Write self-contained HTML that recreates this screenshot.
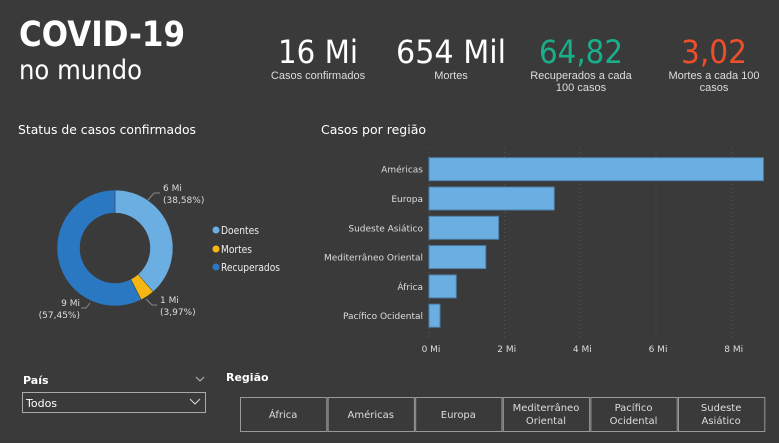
<!DOCTYPE html>
<html><head><meta charset="utf-8">
<style>
html,body{margin:0;padding:0;background:#3a3a3a;}
svg{display:block;font-family:"DejaVu Sans","Liberation Sans",sans-serif;}
.t{fill:#fff}
.s{fill:#ddd;font-family:"Liberation Sans",sans-serif}
</style></head>
<body>
<svg id="root" width="779" height="443" viewBox="0 0 779 443">
<rect width="779" height="443" fill="#3a3a3a"/>
<g>
<text x="19" y="46" class="t" font-size="35" font-weight="bold" textLength="166" lengthAdjust="spacingAndGlyphs">COVID-19</text>
<text x="19" y="79" class="t" font-size="27" textLength="123" lengthAdjust="spacingAndGlyphs">no mundo</text>
</g>
<g>
<text x="318" y="63" text-anchor="middle" class="t" font-size="32" textLength="80" lengthAdjust="spacingAndGlyphs">16 Mi</text>
<text x="318" y="79" text-anchor="middle" class="s" font-size="11">Casos confirmados</text>
</g>
<g>
<text x="451" y="63" text-anchor="middle" class="t" font-size="32" textLength="110" lengthAdjust="spacingAndGlyphs">654 Mil</text>
<text x="451" y="79" text-anchor="middle" class="s" font-size="11">Mortes</text>
</g>
<g>
<text x="581" y="63" text-anchor="middle" font-size="32" fill="#1aaf8b" textLength="84" lengthAdjust="spacingAndGlyphs">64,82</text>
<text x="581" y="79" text-anchor="middle" class="s" font-size="11">Recuperados a cada</text>
<text x="581" y="91" text-anchor="middle" class="s" font-size="11">100 casos</text>
</g>
<g>
<text x="714" y="63" text-anchor="middle" font-size="32" fill="#ee4f2b" textLength="66" lengthAdjust="spacingAndGlyphs">3,02</text>
<text x="714" y="79" text-anchor="middle" class="s" font-size="11">Mortes a cada 100</text>
<text x="714" y="91" text-anchor="middle" class="s" font-size="11">casos</text>
</g>
<text x="18" y="134" class="t" font-size="12.5" textLength="178" lengthAdjust="spacingAndGlyphs">Status de casos confirmados</text>
<text x="321" y="134" class="t" font-size="12.5" textLength="105" lengthAdjust="spacingAndGlyphs">Casos por região</text>
<g id="donut"></g>
<g>
<g><circle cx="216" cy="230" r="3.5" fill="#6aaee2"/><text x="221" y="234" fill="#eee" font-size="11" textLength="38" lengthAdjust="spacingAndGlyphs">Doentes</text></g>
<g><circle cx="216" cy="249" r="3.5" fill="#f6b612"/><text x="221" y="253" fill="#eee" font-size="11" textLength="31" lengthAdjust="spacingAndGlyphs">Mortes</text></g>
<g><circle cx="216" cy="267" r="3.5" fill="#2b78c2"/><text x="221" y="271" fill="#eee" font-size="11" textLength="59" lengthAdjust="spacingAndGlyphs">Recuperados</text></g>
</g>
<g id="bars"></g>
<g>
<text x="23" y="384" class="t" font-size="11" font-weight="bold">País</text>
<path d="M196 377 l4 4 l4 -4" stroke="#bbb" fill="none"/>
<rect x="22.5" y="392.5" width="183" height="20" fill="none" stroke="#aaa"/>
<text x="26" y="407" class="t" font-size="11">Todos</text>
<path d="M190 399 l5 5 l5 -5" stroke="#ddd" fill="none"/>
</g>
<text x="226" y="381" class="t" font-size="11" font-weight="bold">Região</text>
<g id="slicer"></g>
</svg>
<script>
const NS="http://www.w3.org/2000/svg";
function mk(tag,attrs,parent){const e=document.createElementNS(NS,tag);for(const k in attrs)e.setAttribute(k,attrs[k]);parent.appendChild(e);return e;}

// donut data
const slices=["Doentes","Mortes","Recuperados"];
const sliceValues=[38.58,3.97,57.45];
const sliceLabels=["6 Mi","1 Mi","9 Mi"];
const slicePct=["(38,58%)","(3,97%)","(57,45%)"];
const sliceColors=["#6aaee2","#f6b612","#2b78c2"];

// bar data
const regions=["Américas","Europa","Sudeste Asiático","Mediterrâneo Oriental","África","Pacífico Ocidental"];
const regionValues=[8.84,3.31,1.84,1.50,0.72,0.29];
const xTicks=[0,2,4,6,8];
const xTickLabels=["0 Mi","2 Mi","4 Mi","6 Mi","8 Mi"];

const slicerItems=[["África"],["Américas"],["Europa"],["Mediterrâneo","Oriental"],["Pacífico","Ocidental"],["Sudeste","Asiático"]];

// donut
const dg=document.getElementById("donut");
const cx=115,cy=248,R=58,r=35;
const total=sliceValues.reduce((a,b)=>a+b,0);
let a0=0;
const labelPos=[[163,191,"start"],[160,303,"start"],[80,306,"end"]];
const leaders=["148,200 154,193 160,193","146,299 152,305 157,305","90,303 86,308 81,308"];
sliceValues.forEach((v,i)=>{
  const a1=a0+v/total*2*Math.PI;
  const p=(a,rad)=>[cx+rad*Math.sin(a),cy-rad*Math.cos(a)];
  const [x0,y0]=p(a0,R),[x1,y1]=p(a1,R),[x2,y2]=p(a1,r),[x3,y3]=p(a0,r);
  const lg=(a1-a0)>Math.PI?1:0;
  const path=mk("path",{d:`M${x0} ${y0} A${R} ${R} 0 ${lg} 1 ${x1} ${y1} L${x2} ${y2} A${r} ${r} 0 ${lg} 0 ${x3} ${y3} Z`,fill:sliceColors[i],stroke:"#3a3a3a","stroke-width":0.5},dg);
  
  
  const [lx,ly,anc]=labelPos[i];
  const ld=mk("polyline",{points:leaders[i],fill:"none",stroke:"#888","stroke-width":1},dg);
  
  
  const t1=mk("text",{x:lx,y:ly,"text-anchor":anc,fill:"#ddd","font-size":9},dg);t1.textContent=sliceLabels[i];
  
  
  const t2=mk("text",{x:lx,y:ly+12,"text-anchor":anc,fill:"#ddd","font-size":9},dg);t2.textContent=slicePct[i];
  
  
  a0=a1;
});

// bars
const bg=document.getElementById("bars");
const x0px=429,pxPer=(731.7-429)/8;
const xs=v=>x0px+v*pxPer;
const rowTop=157.7,rowStep=29.3,barH=23;
xTicks.forEach((t,i)=>{
  const l=mk("line",{x1:xs(t),x2:xs(t),y1:148,y2:340,stroke:"#555","stroke-dasharray":"1,3"},bg);
  
  
  const tx=mk("text",{x:xs(t)+2,y:352,"text-anchor":"middle",fill:"#ddd","font-size":9},bg);
  tx.textContent=xTickLabels[i];
  
  
});
regions.forEach((reg,i)=>{
  const y=rowTop+i*rowStep;
  const b=mk("rect",{x:xs(0),y:y,width:xs(regionValues[i])-xs(0),height:barH,fill:"#6aaee2",stroke:"#4f7ea6","stroke-width":1},bg);
  
  
  const t=mk("text",{x:423,y:y+barH/2+3.5,"text-anchor":"end",fill:"#ddd","font-size":9},bg);
  t.textContent=reg;
  
  
});

// region slicer
const sg=document.getElementById("slicer");
slicerItems.forEach((lines,i)=>{
  const x=240+i*87.6,w=86.3;
  const g=mk("g",{},sg);
  
  
  mk("rect",{x:x+0.5,y:397.5,width:w,height:34,fill:"none",stroke:"#999"},g);
  lines.forEach((ln,j)=>{
    const yy=lines.length===1?418:411+j*13;
    const t=mk("text",{x:x+w/2,y:yy,"text-anchor":"middle",fill:"#ddd","font-size":10},g);
    t.textContent=ln;
  });
});
</script>
</body></html>
